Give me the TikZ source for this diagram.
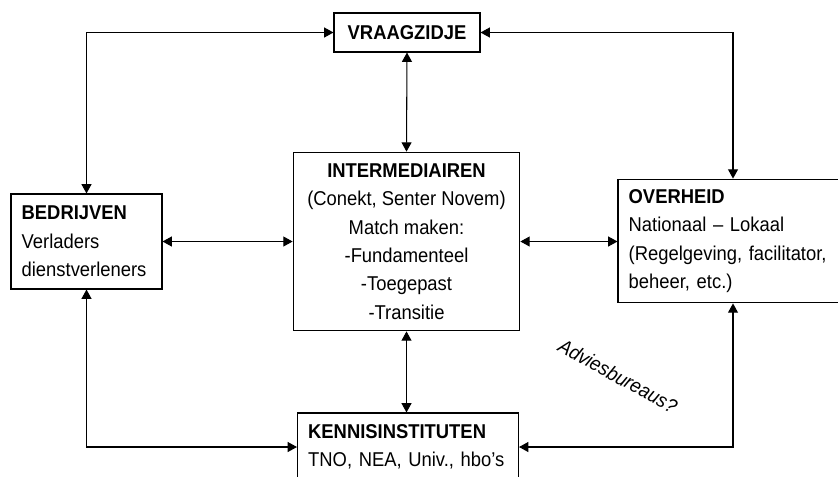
\documentclass[tikz,border=0pt]{standalone}
\usepackage{fontspec}
\setmainfont[FakeStretch=0.92]{Liberation Sans}
\usetikzlibrary{arrows.meta}

\begin{document}
\begin{tikzpicture}[x=0.75pt, y=-0.75pt,
  every node/.style={font=\fontsize{15}{21.3}\selectfont},
  box/.style={draw, line width=0.8pt, inner xsep=8pt, inner ysep=0pt},
  arr/.style={{Triangle[length=7pt,width=7.5pt]}-{Triangle[length=7pt,width=7.5pt]}, line width=0.8pt}]

  \useasboundingbox (0,0) rectangle (838,476);

  % VRAAGZIDJE
  \node (vraag) at (407, 32.5) [box, minimum width=109.5pt, minimum height=29.25pt] {\textbf{VRAAGZIDJE}};

  % INTERMEDIAIREN
  \node (inter) at (406.5, 241.5) [box, align=center, minimum width=170pt, minimum height=134pt]
    {\textbf{INTERMEDIAIREN}\\(Conekt, Senter Novem)\\Match maken:\\-Fundamenteel\\-Toegepast\\-Transitie};

  % BEDRIJVEN
  \node (bedr) at (86.5, 241.5) [box, text width=97.25pt, align=left, minimum height=71.25pt]
    {\textbf{BEDRIJVEN}\\Verladers\\dienstverleners};

  % OVERHEID
  \node (over) at (733, 241) [box, text width=156.5pt, align=left, minimum height=92.8pt]
    {\textbf{OVERHEID}\\Nationaal – Lokaal\\(Regelgeving, facilitator,\\beheer, etc.)};

  % KENNISINSTITUTEN
  \node (kennis) at (408, 447) [box, text width=149.75pt, align=left, minimum height=51pt]
    {\textbf{KENNISINSTITUTEN}\\TNO, NEA, Univ., hbo’s};

  \node (advies) at (618, 376) [rotate=-29, font=\fontsize{15}{18}\selectfont\itshape] {Adviesbureaus?};

  % connectors
  \draw[arr] (vraag.west) -| (bedr.north);
  \draw[arr] (vraag.east) -| (over.north);
  \draw[arr] (vraag.south) -- (inter.north);
  \draw[arr] (bedr.east) -- (inter.west);
  \draw[arr] (inter.east) -- (inter.east -| over.west);
  \draw[arr] (inter.south) -- (inter.south |- kennis.north);
  \draw[arr] (bedr.south) |- (kennis.west);
  \draw[arr] (over.south) |- (kennis.east);

\end{tikzpicture}
\end{document}
